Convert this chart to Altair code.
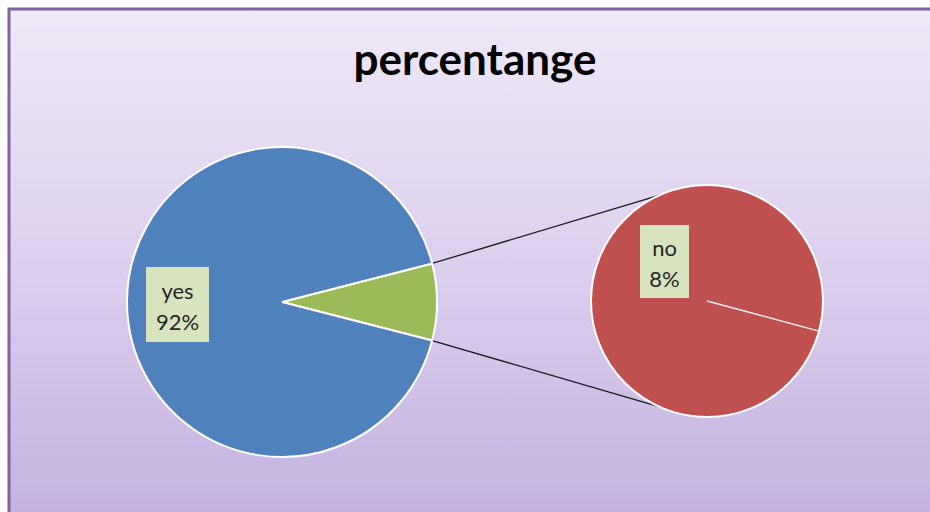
import math

import altair as alt
import pandas as pd

# ---- data -------------------------------------------------------------
categories = ["yes", "no"]
shares = [92, 8]                      # percent
slice_colors = ["#4f81bd", "#c0504d"]
other_color = "#9bbb59"               # wedge that is broken out into the second pie
title_text = "percentange"

# ---- layout -----------------------------------------------------------
W, H = 930, 512
big_cx, big_cy, big_r = 282, 302, 155
small_cx, small_cy, small_r = 707, 301, 116
connector_deg = 114                   # where the connectors meet the small pie
seam_deg = 15                         # start seam of the single slice in the small pie
label_boxes = {                       # centre x, centre y, width, height
    "yes": (177.5, 304.5, 63, 75),
    "no": (664.5, 261.5, 49, 73),
}
text_color = "#262626"
box_color = "#d7e4bd"
font = "Lato"

total = sum(shares)
split_share = shares[1]
half = math.pi * split_share / total   # half-angle of the broken-out wedge
TAU = 2 * math.pi

# Vega theta: 0 at 12 o'clock, clockwise. Centre the broken-out wedge at 3 o'clock.
big_start = math.pi / 2 - half

big_df = pd.DataFrame({
    "cat": ["Other", categories[0]],
    "value": [split_share, shares[0]],
    "order": [0, 1],
})
small_df = pd.DataFrame({"cat": [categories[1]], "value": [split_share]})

color_scale = alt.Scale(
    domain=["Other", categories[0], categories[1]],
    range=[other_color, slice_colors[0], slice_colors[1]],
)

one = pd.DataFrame({"k": [0]})

background = alt.Chart(one).mark_rect(
    fill={
        "gradient": "linear",
        "x1": 0, "y1": 0, "x2": 0, "y2": 1,
        "stops": [
            {"offset": 0, "color": "#efe9f8"},
            {"offset": 0.5, "color": "#dccfee"},
            {"offset": 1, "color": "#c4b1e1"},
        ],
    },
    stroke="#7f63a3",
    strokeWidth=3,
).encode(
    x=alt.value(9), x2=alt.value(W + 10),
    y=alt.value(9), y2=alt.value(H + 10),
)

big_pie = alt.Chart(big_df).mark_arc(
    radius=big_r, stroke="white", strokeWidth=2
).encode(
    theta=alt.Theta("value:Q", stack=True,
                    scale=alt.Scale(range=[big_start, big_start + TAU])),
    order=alt.Order("order:Q"),
    color=alt.Color("cat:N", scale=color_scale, legend=None),
    x=alt.value(big_cx), y=alt.value(big_cy),
)

small_pie = alt.Chart(small_df).mark_arc(
    radius=small_r, stroke="white", strokeWidth=2
).encode(
    theta=alt.Theta("value:Q", stack=True, scale=alt.Scale(range=[0, TAU])),
    color=alt.Color("cat:N", scale=color_scale, legend=None),
    x=alt.value(small_cx), y=alt.value(small_cy),
)

# seam of the single slice
seam_rad = math.radians(seam_deg)
seam = alt.Chart(one).mark_rule(color="white", strokeWidth=1.3, opacity=0.9).encode(
    x=alt.value(small_cx), y=alt.value(small_cy),
    x2=alt.value(small_cx + small_r * math.cos(seam_rad)),
    y2=alt.value(small_cy + small_r * math.sin(seam_rad)),
)

# connector lines from the broken-out wedge to the second pie
conn_rad = math.radians(connector_deg)
conn_rows = []
for sign in (-1, 1):
    conn_rows.append({
        "x": big_cx + big_r * math.cos(half),
        "y": big_cy + sign * big_r * math.sin(half),
        "x2": small_cx + small_r * math.cos(conn_rad),
        "y2": small_cy + sign * small_r * math.sin(conn_rad),
    })
connectors = alt.Chart(pd.DataFrame(conn_rows)).mark_rule(
    color="#1a1a1a", strokeWidth=1.3
).encode(
    x=alt.X("x:Q", scale=None), y=alt.Y("y:Q", scale=None),
    x2="x2:Q", y2="y2:Q",
)

# data labels
label_rows = []
for cat, val in zip(categories, shares):
    cx, cy, bw, bh = label_boxes[cat]
    label_rows.append({
        "label": f"{cat}\n{round(100 * val / total)}%",
        "cx": cx, "base": cy - 5.5,
        "x0": cx - bw / 2, "x1": cx + bw / 2,
        "y0": cy - bh / 2, "y1": cy + bh / 2,
    })
label_df = pd.DataFrame(label_rows)

label_boxes_layer = alt.Chart(label_df).mark_rect(color=box_color).encode(
    x=alt.X("x0:Q", scale=None), x2="x1:Q",
    y=alt.Y("y0:Q", scale=None), y2="y1:Q",
)
label_text = alt.Chart(label_df).mark_text(
    font=font, fontSize=22, color=text_color, lineBreak="\n",
    lineHeight=30.5, align="center", baseline="alphabetic",
).encode(
    x=alt.X("cx:Q", scale=None), y=alt.Y("base:Q", scale=None),
    text="label:N",
)

title = alt.Chart(pd.DataFrame({"t": [title_text]})).mark_text(
    font=font, fontSize=44, fontWeight="bold", color="#000000",
    align="center", baseline="alphabetic",
).encode(x=alt.value(475), y=alt.value(75), text="t:N")

chart = alt.layer(
    background, connectors, big_pie, small_pie, seam,
    label_boxes_layer, label_text, title,
).resolve_scale(
    theta="independent"
).properties(
    width=W, height=H,
    autosize=alt.AutoSizeParams(type="none"),
    padding=0,
    background="white",
).configure_view(stroke=None)

chart.save("out.html", embed_options={"renderer": "svg", "actions": False})
